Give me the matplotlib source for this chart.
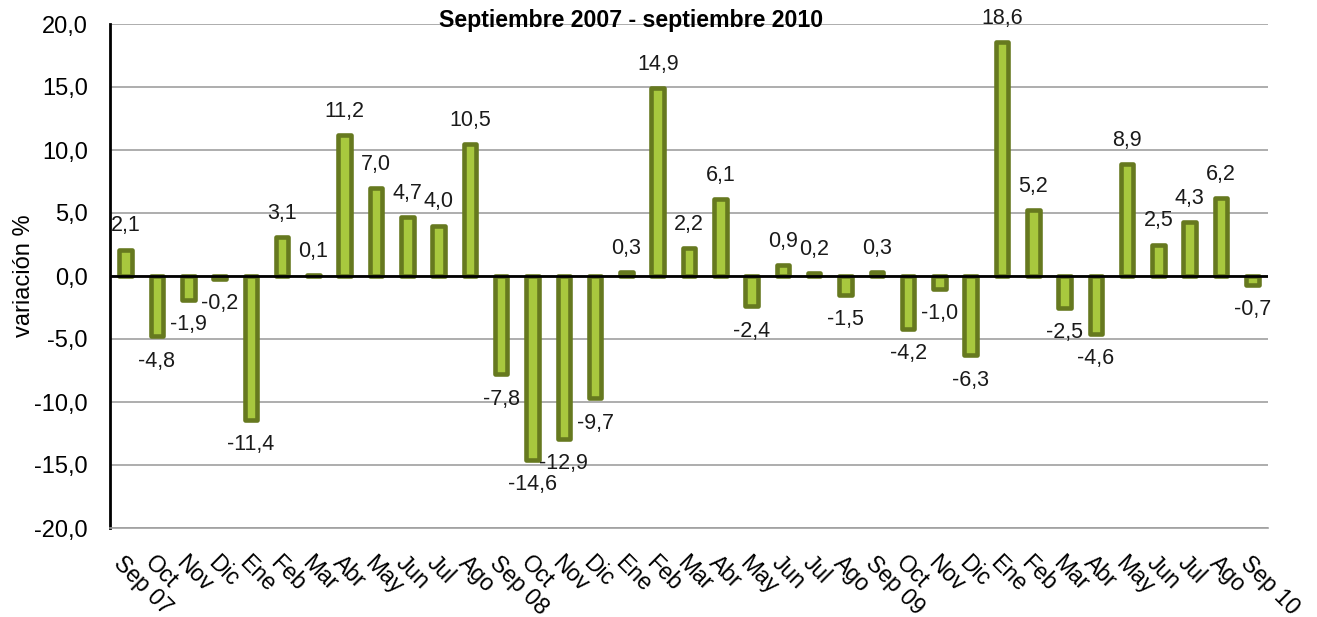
import matplotlib
matplotlib.use("Agg")
import matplotlib.pyplot as plt
import numpy as np

plt.rcParams['font.family'] = ['Liberation Sans', 'DejaVu Sans']

# monthly variation, Sep 2007 - Sep 2010
meses = ["Sep 07", "Oct", "Nov", "Dic", "Ene", "Feb", "Mar", "Abr", "May", "Jun", "Jul", "Ago",
         "Sep 08", "Oct", "Nov", "Dic", "Ene", "Feb", "Mar", "Abr", "May", "Jun", "Jul", "Ago",
         "Sep 09", "Oct", "Nov", "Dic", "Ene", "Feb", "Mar", "Abr", "May", "Jun", "Jul", "Ago",
         "Sep 10"]
variacion = [2.1, -4.8, -1.9, -0.2, -11.4, 3.1, 0.1, 11.2, 7.0, 4.7, 4.0, 10.5,
             -7.8, -14.6, -12.9, -9.7, 0.3, 14.9, 2.2, 6.1, -2.4, 0.9, 0.2, -1.5,
             0.3, -4.2, -1.0, -6.3, 18.6, 5.2, -2.5, -4.6, 8.9, 2.5, 4.3, 6.2,
             -0.7]
yticks = [-20, -15, -10, -5, 0, 5, 10, 15, 20]

fill = "#A8C83E"
edge = "#66791F"

fig = plt.figure(figsize=(13.17, 6.17), dpi=100)
ax = fig.add_axes([110/1317, 1-528/617, (1268-110)/1317, (528-24)/617])

x = np.arange(len(variacion))
ax.bar(x, variacion, width=0.40, color=fill, edgecolor=edge, linewidth=3.3,
       joinstyle="round", zorder=3)

for xi, v in zip(x, variacion):
    off = 17 if v >= 0 else -18
    ax.annotate(f"{v:.1f}".replace(".", ","), (xi, v), xytext=(0, off),
                textcoords="offset points", ha="center", va="center",
                fontsize=15.5, color="#1a1a1a", zorder=4)

ax.set_xlim(-0.5, len(variacion) - 0.5)
ax.set_ylim(-20, 20)
ax.set_yticks(yticks)
ax.set_yticklabels([f"{t:.1f}".replace(".", ",") for t in yticks], fontsize=17)
ax.yaxis.grid(True, color="#A0A0A0", linewidth=1.2, zorder=0)
ax.axhline(0, color="black", linewidth=2, zorder=5)

ax.set_xticks(x)
ax.set_xticklabels(meses, rotation=-45, ha="left", va="top",
                   rotation_mode="anchor", fontsize=16.5)
ax.tick_params(axis="x", length=0, pad=17)
ax.tick_params(axis="y", length=0, pad=16)

for s in ["top", "right"]:
    ax.spines[s].set_visible(False)
ax.spines["bottom"].set_color("#A0A0A0")
ax.spines["bottom"].set_linewidth(1.2)
ax.spines["left"].set_color("black")
ax.spines["left"].set_linewidth(2)

ax.set_ylabel("variación %", fontsize=17)
ax.yaxis.set_label_coords((35 - 110) / 1158, 0.5)

fig.text(631/1317, 1-20/617, "Septiembre 2007 - septiembre 2010",
         ha="center", va="center", fontsize=16.7, fontweight="bold")

fig.savefig("out.png", dpi=100)
